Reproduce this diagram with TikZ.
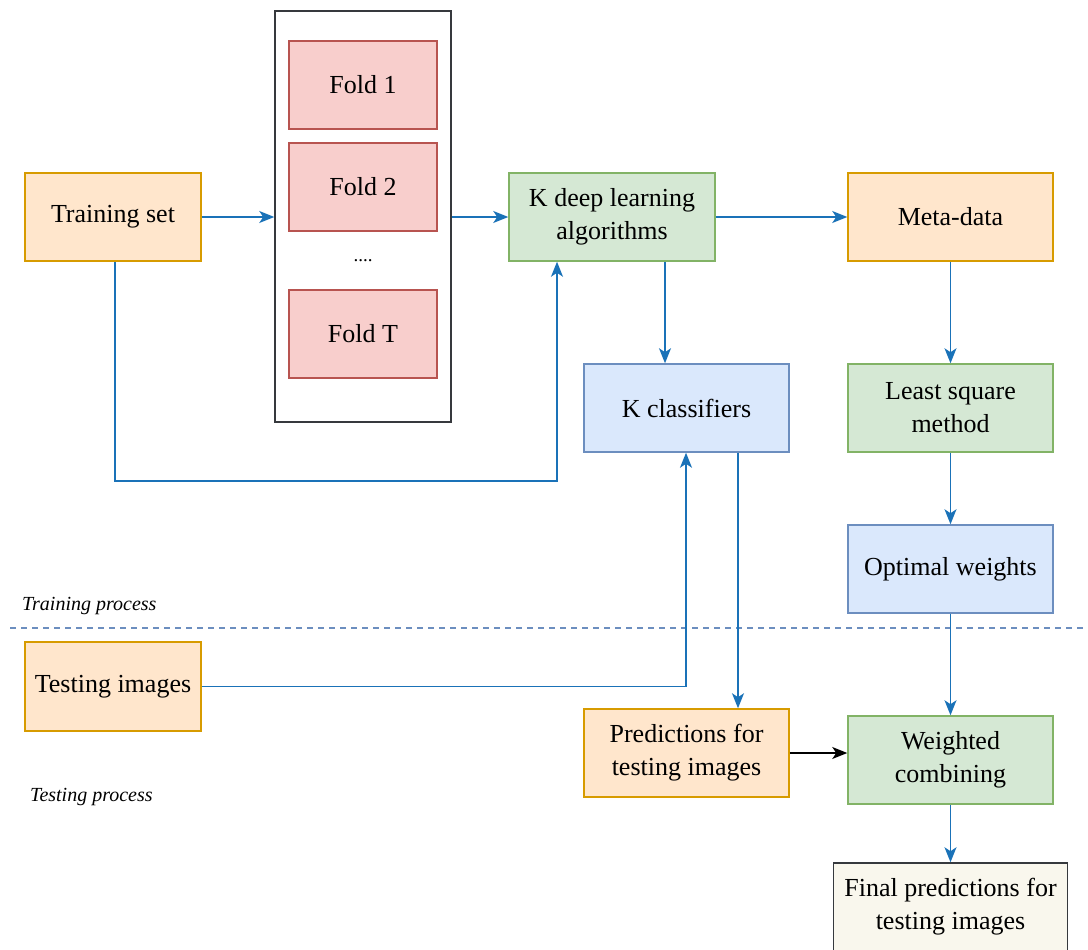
\documentclass[tikz,border=0pt]{standalone}
\usepackage{fontspec}
\setmainfont{Liberation Serif}
\usetikzlibrary{arrows.meta}
\definecolor{orfill}{HTML}{FFE6CC}\definecolor{ordraw}{HTML}{D79B00}
\definecolor{rdfill}{HTML}{F8CECC}\definecolor{rddraw}{HTML}{B85450}
\definecolor{grfill}{HTML}{D5E8D4}\definecolor{grdraw}{HTML}{82B366}
\definecolor{blfill}{HTML}{DAE8FC}\definecolor{bldraw}{HTML}{6C8EBF}
\definecolor{fnfill}{HTML}{F9F7ED}\definecolor{fndraw}{HTML}{36393D}
\definecolor{arr}{HTML}{1A72B8}
\tikzset{
  box/.style={draw, line width=1.5pt, inner sep=0pt, align=center,
    font=\fontsize{26}{33}\selectfont},
  orbox/.style={box, fill=orfill, draw=ordraw},
  rdbox/.style={box, fill=rdfill, draw=rddraw},
  grbox/.style={box, fill=grfill, draw=grdraw},
  blbox/.style={box, fill=blfill, draw=bldraw},
  fnbox/.style={box, fill=fnfill, draw=fndraw},
  conn/.style={draw=arr, line width=1.5pt, -{Stealth[length=15pt,width=12pt,inset=4pt]}},
  blconn/.style={draw=black, line width=1.5pt, -{Stealth[length=15pt,width=12pt,inset=4pt]}},
  lbl/.style={font=\fontsize{20}{24}\selectfont\itshape, anchor=west, inner sep=0pt},
}
\begin{document}
\begin{tikzpicture}[x=1pt,y=-1pt]
\useasboundingbox (0,0) rectangle (1088,950);
\clip (0,0) rectangle (1088,950);
\fill[white] (0,0) rectangle (1088,950);
% dashed separator
\draw[bldraw, line width=1.3pt, dash pattern=on 6pt off 5pt] (10,628) -- (1088,628);
\node[lbl] (trp) at (22,606) {Training process};
\node[lbl] (tep) at (30,797) {Testing process};
% fold container
\node[draw=fndraw, fill=white, line width=1.5pt, minimum width=176pt, minimum height=411pt, inner sep=0pt] (folds) at (363,216.5) {};
\node[rdbox, minimum width=148pt, minimum height=88pt] (f1) at (363,85) {Fold 1};
\node[rdbox, minimum width=148pt, minimum height=88pt] (f2) at (363,187) {Fold 2};
\node[font=\fontsize{19}{22}\selectfont, inner sep=0pt] (dots) at (363,261) {....};
\node[rdbox, minimum width=148pt, minimum height=88pt] (fT) at (363,334) {Fold T};
% boxes
\node[orbox, minimum width=176pt, minimum height=88pt] (train) at (113,217) {Training set};
\node[grbox, minimum width=206pt, minimum height=88pt] (kdl) at (612,217) {K deep learning\\algorithms};
\node[orbox, minimum width=205pt, minimum height=88pt] (meta) at (950.5,217) {Meta-data};
\node[blbox, minimum width=205pt, minimum height=88pt] (kcl) at (686.5,408) {K classifiers};
\node[grbox, minimum width=205pt, minimum height=88pt] (lsm) at (950.5,408) {Least square\\method};
\node[blbox, minimum width=205pt, minimum height=88pt] (opt) at (950.5,569) {Optimal weights};
\node[orbox, minimum width=176pt, minimum height=89pt] (test) at (113,686.5) {Testing images};
\node[orbox, minimum width=205pt, minimum height=88pt] (pred) at (686.5,753) {Predictions for\\testing images};
\node[grbox, minimum width=205pt, minimum height=88pt] (wc) at (950.5,760) {Weighted\\combining};
\node[fnbox, minimum width=234pt, minimum height=88pt] (fin) at (950.5,907) {Final predictions for\\testing images};
% connectors
\draw[conn] (train.east) -- (folds.west |- train.east);
\draw[conn] (folds.east |- kdl.west) -- (kdl.west);
\draw[conn] (kdl.east) -- (meta.west);
\draw[conn] (train.south -| 115,0) -- (115,481) -- (557,481) -- (kdl.south -| 557,0);
\draw[conn] (kdl.south -| 665,0) -- (kcl.north -| 665,0);
\draw[conn] (meta.south) -- (lsm.north);
\draw[conn] (lsm.south) -- (opt.north);
\draw[conn] (opt.south) -- (wc.north);
\draw[conn] (test.east) -- (686,686.5) -- (kcl.south -| 686,0);
\draw[conn] (kcl.south -| 738,0) -- (pred.north -| 738,0);
\draw[blconn] (pred.east) -- (wc.west |- pred.east);
\draw[conn] (wc.south) -- (fin.north);
\end{tikzpicture}
\end{document}
